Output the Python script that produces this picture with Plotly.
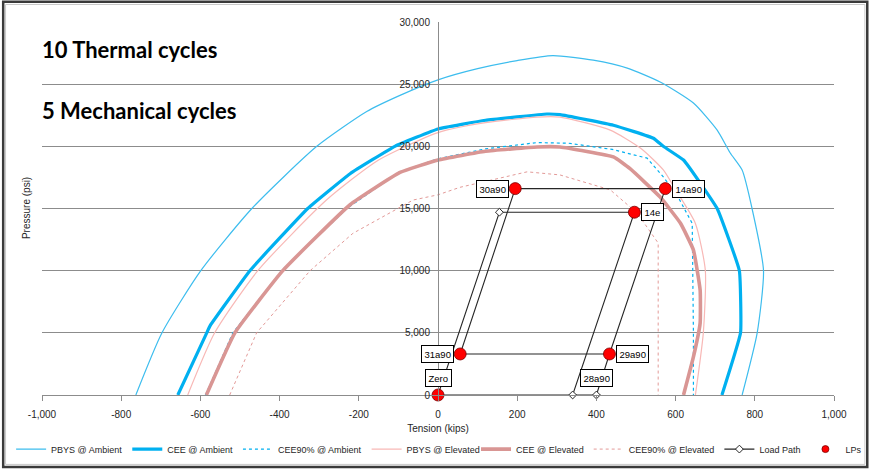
import plotly.graph_objects as go

# ---- envelope curves (tension in kips, pressure in psi) ----
tension_pbys_amb = [-763, -697, -599, -470, -306, -180, -96, 0, 100, 200, 290, 392, 478, 561, 645, 705, 738, 768, 793, 822, 806, 768]
pressure_pbys_amb = [0, 5000, 10000, 15000, 20000, 22800, 24100, 25350, 26250, 26900, 27300, 26930, 26290, 25170, 23480, 21300, 19460, 18090, 15000, 10000, 5000, 0]

tension_cee_amb = [-657, -584, -575, -475, -329, -222, -109, 0, 120, 275, 308, 443, 544, 569, 620, 637, 705, 761, 764, 717]
pressure_cee_amb = [0, 5000, 5600, 10000, 15000, 17800, 20000, 21400, 22100, 22600, 22550, 21700, 20650, 20000, 18900, 18200, 15000, 10000, 5000, 0]

tension_cee90_amb = [-587, -518, -395, -230, -100, 0, 120, 250, 330, 440, 528, 570, 605, 642, 645, 645]
pressure_cee90_amb = [0, 5000, 10000, 15000, 17900, 19000, 19800, 20300, 20250, 19750, 19050, 17500, 16000, 13800, 5000, 0]

tension_pbys_elev = [-632, -564, -455, -281, -150, 0, 120, 250, 308, 435, 511, 569, 600, 650, 675, 670, 650]
pressure_pbys_elev = [0, 5000, 10000, 15700, 18900, 21100, 21900, 22350, 22350, 21300, 19860, 18100, 16500, 13800, 10050, 5000, 0]

tension_cee_elev = [-585, -513, -392, -222, -96, 0, 120, 250, 308, 443, 485, 561, 612, 645, 662, 662, 645, 620]
pressure_cee_elev = [0, 5000, 10000, 15300, 17900, 18900, 19600, 19950, 19950, 19150, 18200, 15920, 13830, 11660, 8440, 5790, 3060, 0]

tension_cee90_elev = [-526, -458, -323, -215, -63, 0, 55, 225, 308, 435, 503, 556, 556]
pressure_cee90_elev = [0, 5000, 10000, 13000, 15680, 16100, 16700, 17950, 17700, 16500, 14630, 12220, 0]

# ---- load path ----
path_tension = [0, 155, 496, 340, 0, 400, 433, 574, 195, 56, 433]
path_pressure = [0, 14700, 14700, 0, 0, 0, 3300, 16600, 16600, 3300, 3300]

# ---- load points ----
lp_names = ["Zero", "31a90", "29a90", "30a90", "14a90", "14e"]
lp_tension = [0, 56, 433, 195, 574, 496]
lp_pressure = [0, 3300, 3300, 16600, 16600, 14700]
lp_side = ["top", "left", "right", "left", "right", "right"]

# extra load-path label
path_label_name = "28a90"
path_label_index = 5

x_tickvals = [-1000, -800, -600, -400, -200, 0, 200, 400, 600, 800, 1000]
x_ticktext = ["-1,000", "-800", "-600", "-400", "-200", "0", "200", "400", "600", "800", "1,000"]
y_tickvals = [0, 5000, 10000, 15000, 20000, 25000, 30000]
y_ticktext = ["0", "5,000", "10,000", "15,000", "20,000", "25,000", "30,000"]

BLUE = "#00B0F0"
BLUE_LIGHT = "#3DBDEE"
PINK_LIGHT = "#F8B8B6"
ROSE = "#D99694"
ROSE_DASH = "#E39A98"
LP_RED = "#FF0000"
LP_EDGE = "#7A0000"

fig = go.Figure()

fig.add_trace(go.Scatter(x=tension_pbys_amb, y=pressure_pbys_amb, mode="lines", name="PBYS @ Ambient",
                         line=dict(color=BLUE_LIGHT, width=1.2, shape="spline", smoothing=0.6),
                         legend="legend"))
fig.add_trace(go.Scatter(x=tension_cee_amb, y=pressure_cee_amb, mode="lines", name="CEE @ Ambient",
                         line=dict(color=BLUE, width=3.2, shape="spline", smoothing=0.3),
                         legend="legend"))
fig.add_trace(go.Scatter(x=tension_cee90_amb, y=pressure_cee90_amb, mode="lines", name="CEE90% @ Ambient",
                         line=dict(color=BLUE, width=1.2, dash="dot"), legend="legend"))
fig.add_trace(go.Scatter(x=tension_pbys_elev, y=pressure_pbys_elev, mode="lines", name="PBYS @ Elevated",
                         line=dict(color=PINK_LIGHT, width=1.2, shape="spline", smoothing=0.6),
                         legend="legend"))
fig.add_trace(go.Scatter(x=tension_cee_elev, y=pressure_cee_elev, mode="lines", name="CEE @ Elevated",
                         line=dict(color=ROSE, width=3.6, shape="spline", smoothing=0.35),
                         legend="legend2"))
fig.add_trace(go.Scatter(x=tension_cee90_elev, y=pressure_cee90_elev, mode="lines", name="CEE90% @ Elevated",
                         line=dict(color=ROSE_DASH, width=1, dash="3px,3px"), legend="legend2"))
fig.add_trace(go.Scatter(x=path_tension, y=path_pressure, mode="lines+markers", name="Load Path",
                         line=dict(color="#262626", width=1.1),
                         marker=dict(symbol="diamond", size=6, color="white",
                                     line=dict(color="#262626", width=1)),
                         cliponaxis=False, legend="legend2"))
fig.add_trace(go.Scatter(x=lp_tension, y=lp_pressure, mode="markers", name="LPs",
                         marker=dict(symbol="circle", size=12, color=LP_RED,
                                     line=dict(color=LP_EDGE, width=0.8)),
                         cliponaxis=False, showlegend=False))
# legend key for the load points (smaller symbol than the plotted markers)
fig.add_trace(go.Scatter(x=[None], y=[None], mode="markers", name="LPs",
                         marker=dict(symbol="circle", size=7, color=LP_RED,
                                     line=dict(color=LP_EDGE, width=0.8)),
                         legend="legend2", hoverinfo="skip"))

label_font = dict(family="Liberation Sans", size=9.5, color="#000000")
for name, xv, yv, side in zip(lp_names, lp_tension, lp_pressure, lp_side):
    ann = dict(x=xv, y=yv, xref="x", yref="y", text=name, showarrow=False,
               font=label_font, bgcolor="white", bordercolor="#000000", borderwidth=1, borderpad=2.5)
    if side == "left":
        ann.update(xanchor="right", yanchor="middle", xshift=-6)
    elif side == "right":
        ann.update(xanchor="left", yanchor="middle", xshift=7)
    else:
        ann.update(xanchor="center", yanchor="bottom", yshift=8)
    fig.add_annotation(**ann)

fig.add_annotation(x=path_tension[path_label_index], y=path_pressure[path_label_index], xref="x", yref="y",
                   text=path_label_name, showarrow=False, font=label_font, bgcolor="white",
                   bordercolor="#000000", borderwidth=1, borderpad=2.5,
                   xanchor="center", yanchor="bottom", yshift=8)

# headline notes
fig.add_annotation(x=-0.002, y=0.925, xref="paper", yref="paper", text="<b>10 Thermal cycles</b>",
                   showarrow=False, xanchor="left", yanchor="middle",
                   font=dict(family="Lato", size=22, color="#000000"))
fig.add_annotation(x=-0.002, y=0.764, xref="paper", yref="paper", text="<b>5 Mechanical cycles</b>",
                   showarrow=False, xanchor="left", yanchor="middle",
                   font=dict(family="Lato", size=22, color="#000000"))

# y axis title, placed at the left edge
fig.add_annotation(x=-0.0195, y=0.5, xref="paper", yref="paper", text="Pressure (psi)",
                   textangle=-90, showarrow=False, xanchor="center", yanchor="middle",
                   font=dict(family="Liberation Sans", size=10, color="#262626"))

# chart frame
fig.add_shape(type="rect", xref="paper", yref="paper", x0=-0.049, x1=1.042, y0=-0.193, y1=1.054,
              line=dict(color="#3A3A3A", width=2.5), layer="above")
fig.add_shape(type="rect", xref="paper", yref="paper", x0=-0.046, x1=1.039, y0=-0.186, y1=1.047,
              line=dict(color="#C8C8C8", width=1), layer="above")

legend_style = dict(orientation="h", xanchor="left", y=-0.145, yanchor="middle",
                    font=dict(family="Liberation Sans", size=9, color="#262626"),
                    itemwidth=30, tracegroupgap=0, bgcolor="rgba(0,0,0,0)", borderwidth=0)

fig.update_layout(
    width=872, height=470,
    margin=dict(l=42, r=38, t=22, b=75, autoexpand=False),
    paper_bgcolor="white", plot_bgcolor="white",
    font=dict(family="Liberation Sans", size=10, color="#262626"),
    showlegend=True,
    legend=dict(x=-0.039, **legend_style),
    legend2=dict(x=0.548, **legend_style),
    xaxis=dict(range=[-1000, 1000], tickvals=x_tickvals, ticktext=x_ticktext,
               showgrid=False, zeroline=False, showline=True, linecolor="#8C8C8C", linewidth=1,
               ticks="outside", ticklen=5, tickcolor="#8C8C8C", ticklabelstandoff=5,
               tickfont=dict(size=10, color="#262626"),
               title=dict(text="Tension (kips)", font=dict(size=10, color="#262626"), standoff=5)),
    yaxis=dict(range=[0, 30000], tickvals=y_tickvals, ticktext=y_ticktext,
               anchor="free", position=0.5,
               showgrid=True, gridcolor="#8C8C8C", gridwidth=1,
               zeroline=False, showline=True, linecolor="#8C8C8C", linewidth=1,
               ticks="", ticklabelstandoff=6, tickfont=dict(size=10, color="#262626")),
)

fig.write_html("out.html")
